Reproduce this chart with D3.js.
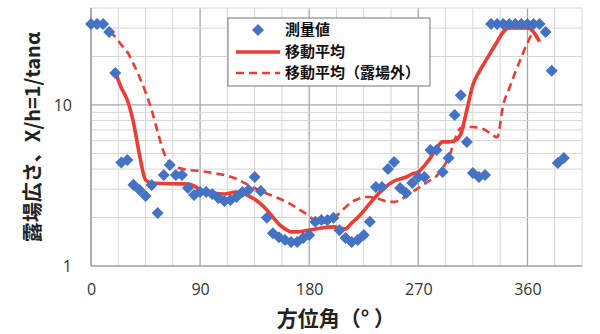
<!DOCTYPE html>
<html>
<head>
<meta charset="utf-8">
<script src="https://cdn.jsdelivr.net/npm/d3@7"></script>
<style>
  body { margin: 0; background: #fff; }
  svg { display: block; }
</style>
</head>
<body>
<svg id="chart" width="600" height="334"></svg>
<script>
// measured values, every 5 degrees
var measDeg = [0, 5, 10, 15, 20, 25, 30, 35, 40, 45, 50, 55, 60, 65, 70, 75, 80, 85, 90, 95,
  100, 105, 110, 115, 120, 125, 130, 135, 140, 145, 150, 155, 160, 165, 170, 175, 180, 185, 190, 195,
  200, 205, 210, 215, 220, 225, 230, 235, 240, 245, 250, 255, 260, 265, 270, 275, 280, 285, 290, 295,
  300, 305, 310, 315, 320, 325, 330, 335, 340, 345, 350, 355, 360, 365, 370, 375, 380, 385, 390];
var measVal = [31.8, 31.8, 31.8, 28.4, 15.8, 4.4, 4.55, 3.2, 2.96, 2.72, 3.18, 2.13, 3.67, 4.24, 3.67, 3.67, 3.05, 2.76, 2.88, 2.88,
  2.8, 2.64, 2.53, 2.57, 2.68, 2.88, 2.96, 3.57, 2.92, 1.99, 1.6, 1.51, 1.45, 1.41, 1.41, 1.49, 1.56, 1.88, 1.93, 1.93,
  1.99, 1.67, 1.49, 1.41, 1.45, 1.56, 1.88, 3.09, 3.09, 4.0, 4.43, 3.05, 2.84, 3.28, 3.57, 3.57, 5.25, 5.25, 3.84, 4.69,
  8.67, 11.5, 5.89, 3.78, 3.57, 3.67, 31.8, 31.8, 31.8, 31.8, 31.8, 31.8, 31.8, 31.8, 31.8, 28.4, 16.3, 4.36, 4.69];

// moving average
var avgDeg = [20, 25, 30, 35, 40, 45, 50, 60, 70, 80, 85, 90, 100, 110, 120, 125, 130, 135, 140, 145,
  150, 155, 160, 165, 170, 180, 190, 200, 210, 215, 220, 225, 230, 235, 240, 250, 260, 265, 270, 275,
  280, 285, 290, 295, 300, 305, 310, 315, 320, 325, 330, 335, 340, 345, 350, 355, 360, 365, 370];
var avgVal = [16, 12.8, 10.7, 7.8, 4.9, 3.42, 3.28, 3.25, 3.24, 3.23, 3.14, 2.96, 2.84, 2.8, 2.88, 2.84, 2.72, 2.6, 2.43, 2.23,
  2.01, 1.82, 1.7, 1.63, 1.63, 1.67, 1.72, 1.75, 1.7, 1.85, 2.0, 2.2, 2.45, 2.7, 2.96, 3.37, 3.57, 3.73, 3.83, 4.2,
  4.7, 5.4, 5.9, 5.9, 6.0, 6.6, 9.3, 13.3, 16.0, 18.5, 21.4, 24.7, 28.4, 30.1, 30.1, 30.1, 30.1, 28.4, 24.7];

// moving average (outside the field)
var outDeg = [15, 20, 25, 30, 35, 40, 45, 50, 55, 60, 65, 70, 80, 90, 100, 110, 120, 130, 140, 150,
  160, 170, 180, 185, 190, 195, 200, 205, 210, 215, 220, 225, 230, 235, 240, 245, 250, 255, 260, 265,
  270, 275, 280, 285, 290, 295, 300, 305, 310, 315, 320, 325, 330, 335, 340, 345, 350, 355, 360, 365, 370];
var outVal = [28.4, 26.5, 23.6, 21.3, 18.0, 14.9, 12.0, 9.3, 6.8, 5.1, 4.36, 4.12, 3.95, 3.89, 3.78, 3.67, 3.47, 3.18, 2.92, 2.72,
  2.53, 2.29, 2.04, 1.9, 1.85, 1.88, 1.99, 2.13, 2.32, 2.5, 2.6, 2.68, 2.68, 2.64, 2.57, 2.5, 2.5, 2.57, 2.72, 2.88,
  3.05, 3.23, 3.42, 3.62, 4.06, 4.69, 6.07, 7.2, 7.3, 7.3, 7.2, 7.0, 6.6, 6.3, 10.0, 12.7, 16.0, 19.8, 24.3, 28.0, 24.3];

var xTicks = [0, 90, 180, 270, 360];
var yTicks = [1, 10];
var legendNames = ["測量値", "移動平均", "移動平均（露場外）"];

var blue = "#4472c4", red = "#ee3b33";
var plotL = 91, plotR = 582, plotT = 8, plotB = 266;

var svg = d3.select("#chart");

var x = d3.scaleLinear().domain([0, 405]).range([plotL, plotR]);
var y = d3.scaleLog().domain([1, 40]).range([plotB, plotT]);

// grid
var grid = svg.append("g");
var vMinor = d3.range(0, 405.1, 22.5);
grid.selectAll("line.v")
  .data(vMinor)
  .enter()
  .append("line")
  .attr("x1", function(d) { return x(d); })
  .attr("x2", function(d) { return x(d); })
  .attr("y1", plotT)
  .attr("y2", plotB)
  .style("stroke", function(d) { return d % 90 == 0 ? "#a8a8a8" : "#d6d6d6"; })
  .style("stroke-width", function(d) { return d % 90 == 0 ? 1.3 : 1; });

var hLines = [];
for (var i = 2; i <= 9; i++) hLines.push(i);
hLines.push(10, 20, 30, 40);
grid.selectAll("line.h")
  .data(hLines)
  .enter()
  .append("line")
  .attr("x1", plotL)
  .attr("x2", plotR)
  .attr("y1", function(d) { return y(d); })
  .attr("y2", function(d) { return y(d); })
  .style("stroke", function(d) { return d == 10 ? "#a8a8a8" : "#d6d6d6"; })
  .style("stroke-width", function(d) { return d == 10 ? 1.3 : 1; });

// axis lines
svg.append("line").attr("x1", plotL).attr("x2", plotL).attr("y1", plotT).attr("y2", plotB)
  .style("stroke", "#a0a0a0").style("stroke-width", 1.3);
svg.append("line").attr("x1", plotL).attr("x2", plotR).attr("y1", plotB).attr("y2", plotB)
  .style("stroke", "#a0a0a0").style("stroke-width", 1.3);

// tick labels
var xAxis = svg.append("g")
  .attr("transform", "translate(0," + plotB + ")")
  .call(d3.axisBottom(x).tickValues(xTicks).tickSize(0).tickPadding(18).tickFormat(d3.format("d")));
var yAxis = svg.append("g")
  .attr("transform", "translate(" + plotL + ",0)")
  .call(d3.axisLeft(y).tickValues(yTicks).tickSize(0).tickPadding(19).tickFormat(d3.format("d")));
[xAxis, yAxis].forEach(function(a) {
  a.select(".domain").remove();
  a.selectAll("text")
    .style("font-family", "'Open Sans', 'Noto Sans', sans-serif")
    .style("font-size", "16px")
    .style("fill", "#333");
});

// lines
var line = d3.line()
  .x(function(d) { return x(d[0]); })
  .y(function(d) { return y(d[1]); })
  .curve(d3.curveMonotoneX);

svg.append("path")
  .datum(d3.zip(outDeg, outVal))
  .attr("d", line)
  .style("fill", "none")
  .style("stroke", red)
  .style("stroke-width", 2.6)
  .style("stroke-dasharray", "8,5");

svg.append("path")
  .datum(d3.zip(avgDeg, avgVal))
  .attr("d", line)
  .style("fill", "none")
  .style("stroke", red)
  .style("stroke-width", 3.6);

// markers
var diamond = d3.symbol().type(d3.symbolSquare).size(72);
svg.selectAll("path.pt")
  .data(d3.zip(measDeg, measVal))
  .enter()
  .append("path")
  .attr("class", "pt")
  .attr("d", diamond)
  .attr("transform", function(d) { return "translate(" + x(d[0]) + "," + y(d[1]) + ") rotate(45)"; })
  .style("fill", blue);

// legend
var lg = svg.append("g").attr("transform", "translate(228,18)");
lg.append("rect")
  .attr("width", 202).attr("height", 68)
  .style("fill", "#fff").style("stroke", "#8c8c8c").style("stroke-width", 1.2);
lg.append("path")
  .attr("d", diamond)
  .attr("transform", "translate(30,12) rotate(45)")
  .style("fill", blue);
lg.append("line").attr("x1", 8).attr("x2", 52).attr("y1", 34).attr("y2", 34)
  .style("stroke", red).style("stroke-width", 3.6);
lg.append("line").attr("x1", 8).attr("x2", 52).attr("y1", 55).attr("y2", 55)
  .style("stroke", red).style("stroke-width", 2.6).style("stroke-dasharray", "8,5");
lg.selectAll("text")
  .data(legendNames)
  .enter()
  .append("text")
  .attr("x", 57)
  .attr("y", function(d, i) { return 12 + i * 21.5; })
  .attr("dy", "0.36em")
  .text(function(d) { return d; })
  .style("font-family", "'Noto Sans CJK JP', sans-serif")
  .style("font-weight", "bold")
  .style("font-size", "15px")
  .style("fill", "#111");

// axis titles
svg.append("text")
  .attr("transform", "translate(33,137) rotate(-90)")
  .attr("text-anchor", "middle")
  .attr("dy", "0.36em")
  .text("露場広さ、X/h=1/tanα")
  .style("font-family", "'Noto Sans CJK JP', sans-serif")
  .style("font-weight", "bold")
  .style("font-size", "20px")
  .style("fill", "#222");

svg.append("text")
  .attr("x", 336)
  .attr("y", 318)
  .attr("text-anchor", "middle")
  .attr("dy", "0.36em")
  .text("方位角（° ）")
  .style("font-family", "'Noto Sans CJK JP', sans-serif")
  .style("font-weight", "bold")
  .style("font-size", "21px")
  .style("fill", "#222");
</script>
</body>
</html>
